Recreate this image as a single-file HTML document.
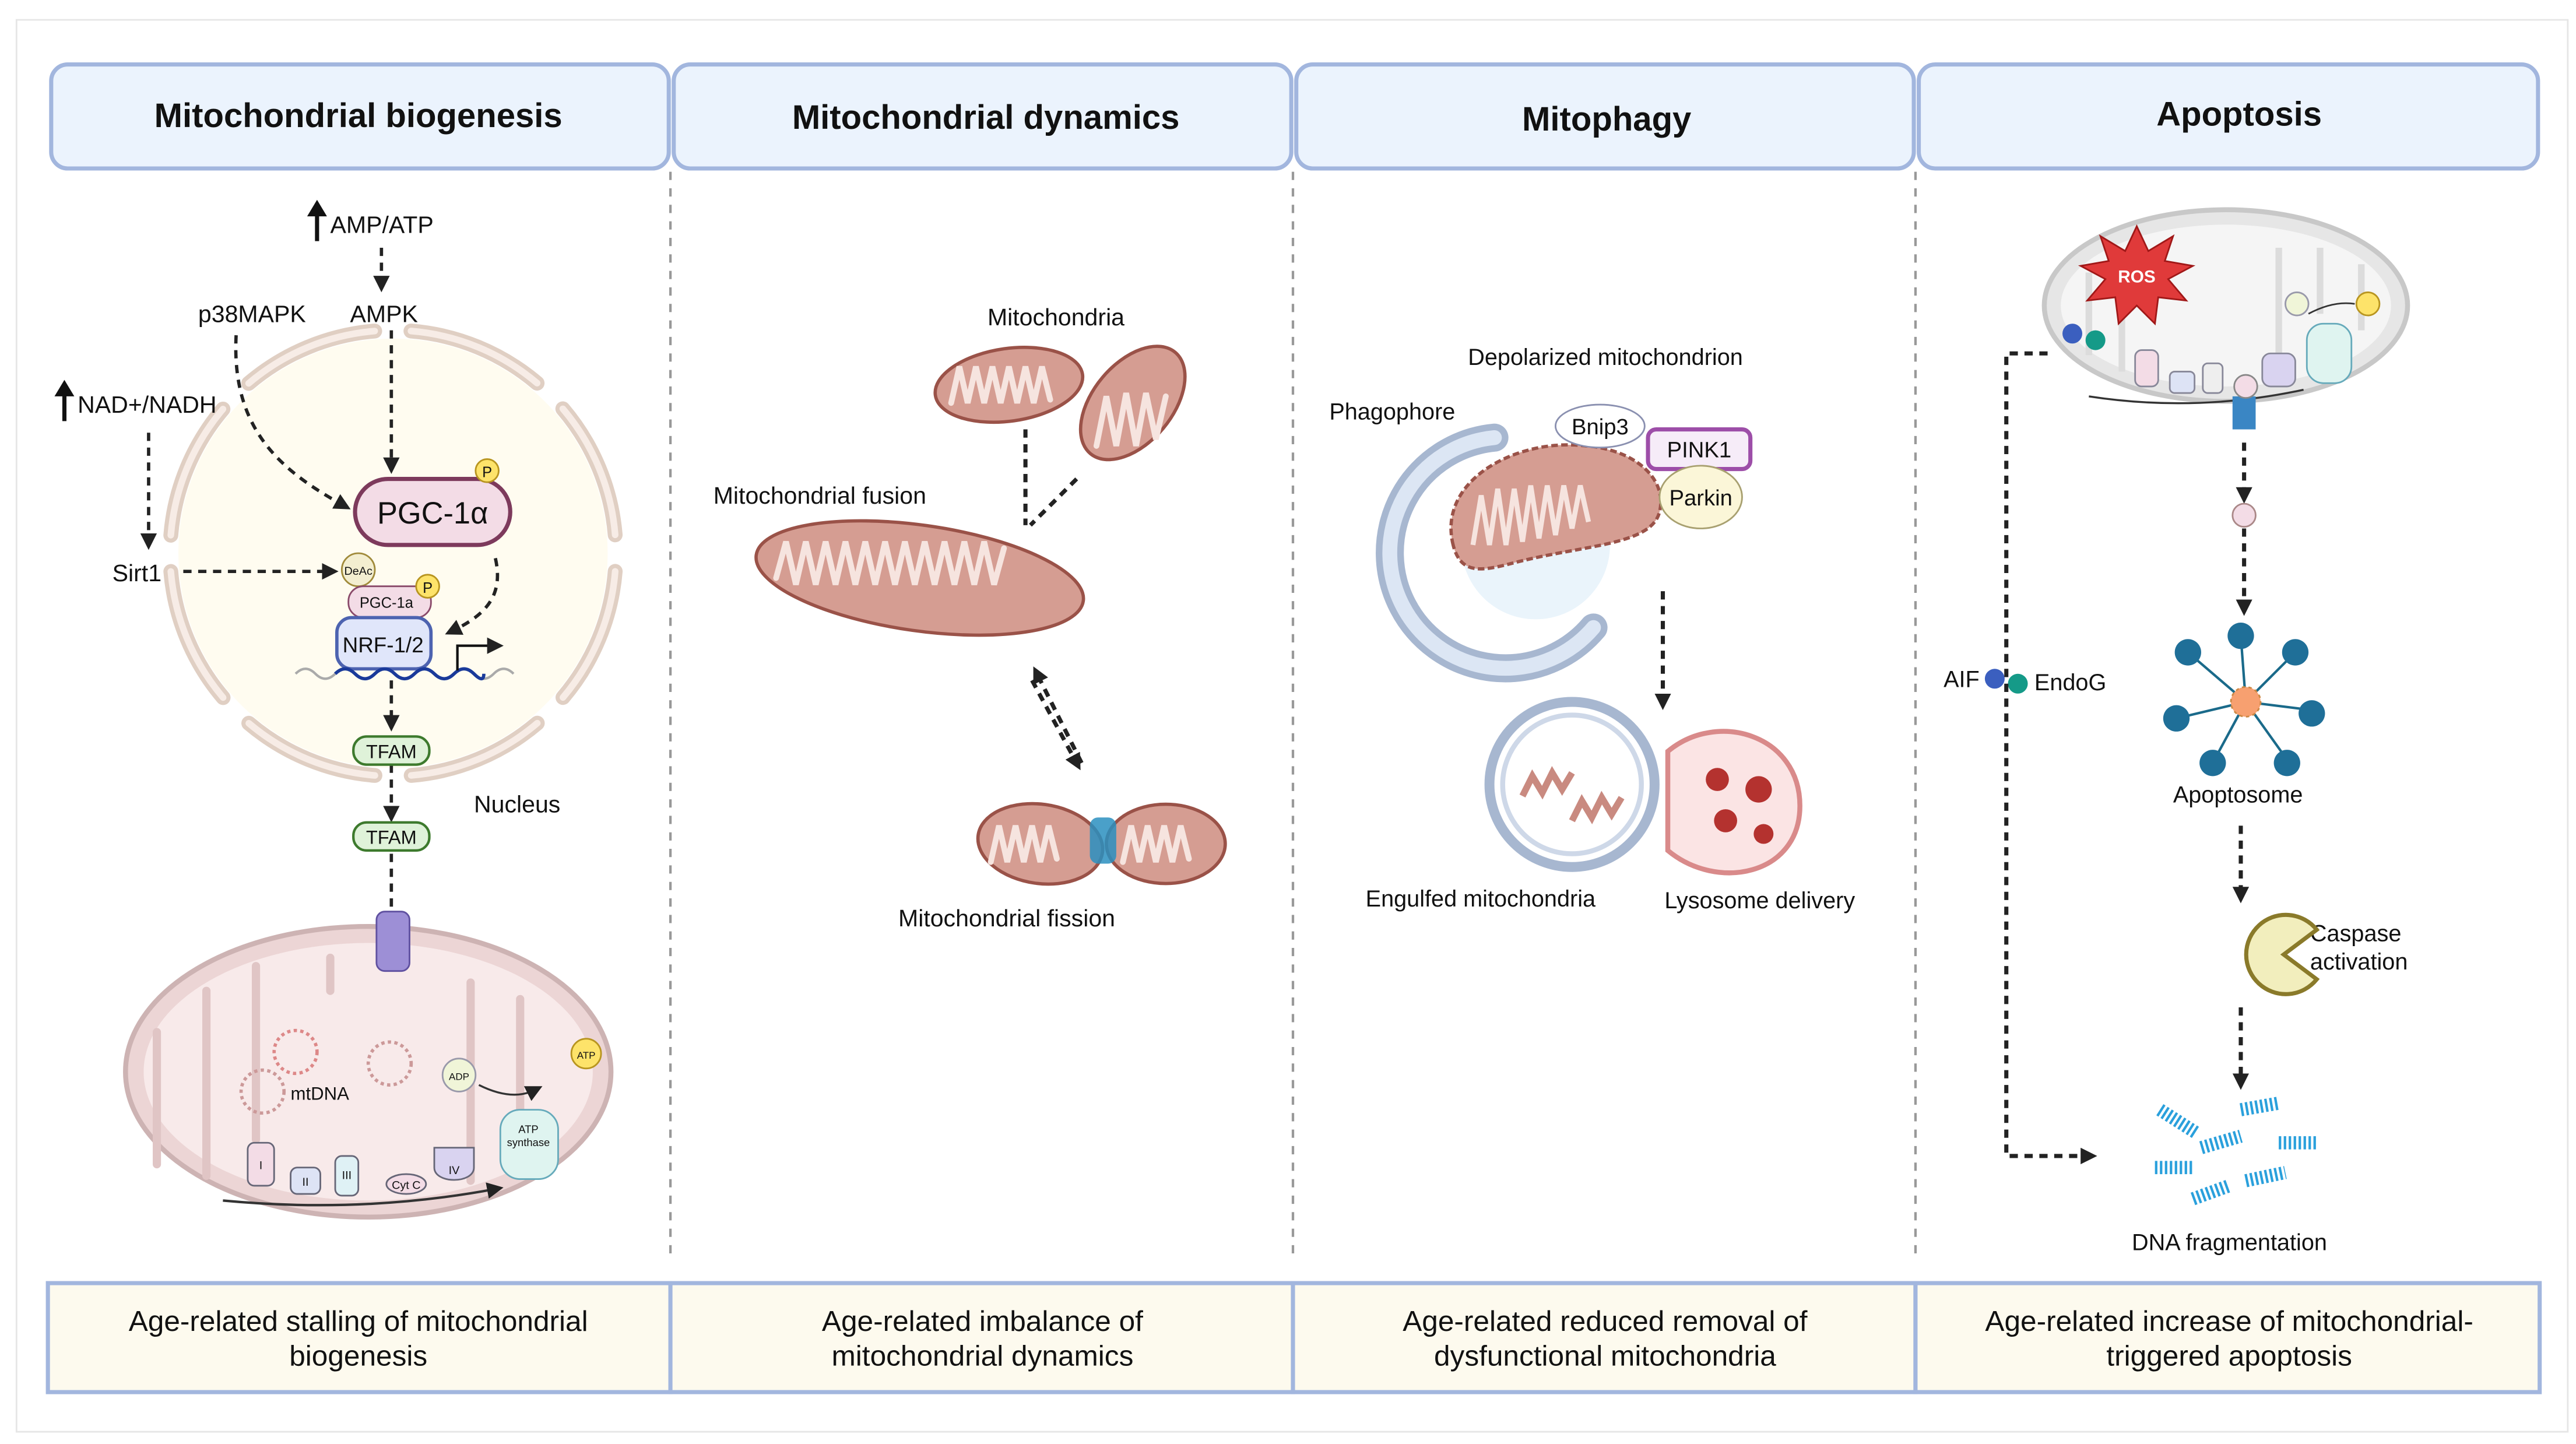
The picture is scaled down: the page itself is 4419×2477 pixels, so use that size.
<!DOCTYPE html>
<html><head><meta charset="utf-8"><style>
html,body{margin:0;padding:0;background:#fff;}
svg{display:block;}
text{font-family:"Liberation Sans",sans-serif;}
</style></head><body>
<svg width="4419" height="2477" viewBox="0 0 1560 874.4" xmlns="http://www.w3.org/2000/svg">
<defs>
<marker id="ah" markerWidth="10" markerHeight="10" refX="5" refY="5" orient="auto" markerUnits="userSpaceOnUse"><path d="M0,0 L10,5 L0,10 z" fill="#222"/></marker>
</defs>
<rect x="0" y="0" width="1560" height="874.4" fill="#fff"/>
<rect x="10" y="12" width="1545" height="855" fill="none" stroke="#e6e6e6" stroke-width="1"/>
<g stroke="#999" stroke-width="1.5" stroke-dasharray="5,5">
<line x1="406" y1="104" x2="406" y2="760"/><line x1="783" y1="104" x2="783" y2="760"/><line x1="1160" y1="104" x2="1160" y2="760"/>
</g>
<g fill="#ebf3fd" stroke="#a2b6de" stroke-width="2.5">
<rect x="31" y="39" width="374" height="63" rx="10"/>
<rect x="408" y="39" width="374" height="63" rx="10"/>
<rect x="785" y="39" width="374" height="63" rx="10"/>
<rect x="1162" y="39" width="375" height="63" rx="10"/>
</g>
<g font-size="20.5" font-weight="bold" text-anchor="middle" fill="#111">
<text x="217" y="77">Mitochondrial biogenesis</text>
<text x="597" y="78">Mitochondrial dynamics</text>
<text x="973" y="79">Mitophagy</text>
<text x="1356" y="76">Apoptosis</text>
</g>
<g fill="#fdfaee" stroke="#a2b6de" stroke-width="2.5">
<rect x="29" y="777" width="377" height="66"/>
<rect x="406" y="777" width="377" height="66"/>
<rect x="783" y="777" width="377" height="66"/>
<rect x="1160" y="777" width="378" height="66"/>
</g>
<g font-size="17.5" text-anchor="middle" fill="#111">
<text x="217" y="806">Age-related stalling of mitochondrial</text><text x="217" y="827">biogenesis</text>
<text x="595" y="806">Age-related imbalance of</text><text x="595" y="827">mitochondrial dynamics</text>
<text x="972" y="806">Age-related reduced removal of</text><text x="972" y="827">dysfunctional mitochondria</text>
<text x="1350" y="806">Age-related increase of mitochondrial-</text><text x="1350" y="827">triggered apoptosis</text>
</g>

<!-- PANEL 1 -->
<circle cx="238" cy="335" r="130" fill="#fffcf0"/>
<circle cx="238" cy="335" r="135" fill="none" stroke="#e0cfc3" stroke-width="9" stroke-linecap="round" stroke-dasharray="84,22" stroke-dashoffset="-11"/>
<circle cx="238" cy="335" r="135" fill="none" stroke="#f7ece6" stroke-width="4" stroke-linecap="round" stroke-dasharray="84,22" stroke-dashoffset="-11"/>
<g font-size="14.5" fill="#111">
<text x="200" y="141">AMP/ATP</text>
<text x="120" y="195">p38MAPK</text>
<text x="212" y="195">AMPK</text>
<text x="47" y="250">NAD+/NADH</text>
<text x="68" y="352">Sirt1</text>
<text x="287" y="492">Nucleus</text>
</g>
<g stroke="#111" stroke-width="2.5"><line x1="192" y1="146" x2="192" y2="128"/><line x1="39" y1="255" x2="39" y2="237"/></g>
<path d="M186,131 L192,121 L198,131z M33,240 L39,230 L45,240z" fill="#111"/>
<g stroke="#222" stroke-width="2" stroke-dasharray="5,4" fill="none" marker-end="url(#ah)">
<line x1="231" y1="150" x2="231" y2="172"/>
<line x1="237" y1="200" x2="237" y2="282"/>
<path d="M143,203 C140,260 170,285 208,306"/>
<line x1="90" y1="262" x2="90" y2="328"/>
<line x1="111" y1="346" x2="200" y2="346"/>
<path d="M300,338 C305,360 295,372 274,382"/>
<line x1="237" y1="412" x2="237" y2="438"/>
<line x1="237" y1="463" x2="237" y2="493"/>
<line x1="237" y1="517" x2="237" y2="604"/>
<line x1="215" y1="635" x2="196" y2="641"/>
</g>
<rect x="215" y="290" width="94" height="40" rx="20" fill="#f3dce6" stroke="#7d3a5c" stroke-width="2.5"/>
<text x="262" y="317" font-size="18.5" text-anchor="middle" fill="#111">PGC-1α</text>
<circle cx="295" cy="285" r="7" fill="#fde36a" stroke="#b89520"/><text x="295" y="289" font-size="9" text-anchor="middle" fill="#111">P</text>
<circle cx="217" cy="345" r="10" fill="#f3eed0" stroke="#a08a3a"/><text x="217" y="348" font-size="7" text-anchor="middle" fill="#111">DeAc</text>
<rect x="211" y="355" width="50" height="19" rx="9" fill="#f3dce6" stroke="#8a4a6a"/><text x="234" y="368" font-size="9" text-anchor="middle" fill="#111">PGC-1a</text>
<circle cx="259" cy="355" r="7" fill="#fde36a" stroke="#b89520"/><text x="259" y="359" font-size="9" text-anchor="middle" fill="#111">P</text>
<rect x="204" y="374" width="57" height="31" rx="9" fill="#e0e6fa" stroke="#4d63b0" stroke-width="2"/><text x="232" y="395" font-size="13" text-anchor="middle" fill="#111">NRF-1/2</text>
<path d="M179,408 q6,-6 12,0 t12,0 t12,0 t12,0 t12,0 t12,0 t12,0 t12,0 t12,0 t12,0 t12,0" fill="none" stroke="#aaa" stroke-width="1.5"/>
<path d="M203,408 q6,-6 12,0 t12,0 t12,0 t12,0 t12,0 t12,0 t12,0 t6,0" fill="none" stroke="#1a3a9a" stroke-width="2"/>
<path d="M277,406 V391 H300" fill="none" stroke="#111" stroke-width="1.5" marker-end="url(#ah)"/>
<g fill="#dff2d9" stroke="#3d7a2d" stroke-width="1.5">
<rect x="214" y="446" width="46" height="17" rx="8"/><rect x="214" y="498" width="46" height="17" rx="8"/><rect x="216" y="611" width="46" height="17" rx="8"/>
</g>
<g font-size="11.5" text-anchor="middle" fill="#111"><text x="237" y="459">TFAM</text><text x="237" y="511">TFAM</text><text x="239" y="623">TFAM</text></g>
<ellipse cx="223" cy="649" rx="147" ry="88" fill="#ecd5d5" stroke="#cdb3b3" stroke-width="3"/>
<ellipse cx="223" cy="649" rx="136" ry="78" fill="#f8eaea"/>
<path d="M95,705 V625 M125,712 V600 M155,690 V585 M200,600 V580 M285,715 V595 M315,705 V605" stroke="#e0c5c5" stroke-width="5" fill="none" stroke-linecap="round"/>
<rect x="228" y="552" width="20" height="36" rx="5" fill="#9d8fd6" stroke="#5f50a0"/>
<circle cx="179" cy="637" r="13" fill="none" stroke="#d88" stroke-width="2" stroke-dasharray="2,2"/>
<circle cx="159" cy="661" r="13" fill="none" stroke="#c99" stroke-width="2" stroke-dasharray="2,2"/>
<circle cx="236" cy="644" r="13" fill="none" stroke="#c99" stroke-width="2" stroke-dasharray="2,2"/>
<text x="176" y="666" font-size="11" fill="#111">mtDNA</text>
<circle cx="278" cy="651" r="10" fill="#f0f5d8" stroke="#99a"/><text x="278" y="654" font-size="6" text-anchor="middle" fill="#111">ADP</text>
<circle cx="355" cy="638" r="9" fill="#fde36a" stroke="#b89520"/><text x="355" y="641" font-size="6" text-anchor="middle" fill="#111">ATP</text>
<path d="M290,657 q20,10 34,3" fill="none" stroke="#333" stroke-width="1.2" marker-end="url(#ah)"/>
<rect x="303" y="672" width="35" height="42" rx="12" fill="#dff4f0" stroke="#6ab"/><text x="320" y="686" font-size="6.5" text-anchor="middle" fill="#111">ATP</text><text x="320" y="694" font-size="6.5" text-anchor="middle" fill="#111">synthase</text>
<g stroke="#667">
<rect x="150" y="692" width="16" height="26" rx="4" fill="#f3dce6"/><rect x="176" y="707" width="18" height="16" rx="4" fill="#dde3f5"/><rect x="203" y="700" width="14" height="24" rx="4" fill="#dff1f5"/>
<ellipse cx="246" cy="717" rx="12" ry="6" fill="#f3dce6"/><path d="M263,695 h24 v12 c0,10 -24,10 -24,0z" fill="#d9d3f0"/>
</g>
<g font-size="7" text-anchor="middle" fill="#111"><text x="158" y="708">I</text><text x="185" y="718">II</text><text x="210" y="714">III</text><text x="246" y="720">Cyt C</text><text x="275" y="711">IV</text></g>
<path d="M135,727 Q220,735 300,720" fill="none" stroke="#333" stroke-width="1.5" marker-end="url(#ah)"/>

<!-- PANEL 2 -->
<g fill="#d59d92" stroke="#9a5248" stroke-width="2">
<ellipse cx="611" cy="233" rx="45" ry="22" transform="rotate(-8 611 233)"/>
<ellipse cx="686" cy="244" rx="40" ry="24" transform="rotate(-50 686 244)"/>
<ellipse cx="557" cy="350" rx="100" ry="32" transform="rotate(8 557 350)"/>
<ellipse cx="630" cy="511" rx="38" ry="24" transform="rotate(8 630 511)"/>
<ellipse cx="706" cy="511" rx="36" ry="24"/>
</g>
<g fill="none" stroke="#f6e4df" stroke-width="3.5" stroke-linecap="round">
<path d="M576,244 l5,-22 l5,22 l5,-22 l5,22 l5,-22 l5,22 l5,-22 l5,22 l5,-22 l5,22 l5,-22 l5,20"/>
<path d="M664,270 l6,-30 l6,30 l6,-32 l6,32 l6,-32 l6,28 l6,-26"/>
<path d="M470,350 l6,-22 l6,26 l6,-26 l6,26 l6,-26 l6,26 l6,-26 l6,26 l6,-26 l6,26 l6,-26 l6,26 l6,-26 l6,26 l6,-26 l6,26 l6,-26 l6,26 l6,-26 l6,26 l6,-26 l6,26 l6,-22"/>
<path d="M600,522 l5,-22 l5,22 l5,-22 l5,22 l5,-22 l5,22 l5,-22 l5,20"/>
<path d="M680,522 l5,-22 l5,22 l5,-22 l5,22 l5,-22 l5,22 l5,-22 l5,20"/>
</g>
<rect x="660" y="495" width="16" height="28" rx="5" fill="#2a8fc0" opacity="0.85"/>
<g font-size="14.5" fill="#111"><text x="598" y="197">Mitochondria</text><text x="432" y="305">Mitochondrial fusion</text><text x="544" y="561">Mitochondrial fission</text></g>
<g stroke="#222" stroke-width="2.5" stroke-dasharray="5,4" fill="none">
<line x1="621" y1="260" x2="621" y2="318"/><line x1="652" y1="290" x2="624" y2="318"/>
<line x1="625" y1="412" x2="652" y2="462" marker-end="url(#ah)"/>
<line x1="655" y1="462" x2="628" y2="408" marker-end="url(#ah)"/>
</g>

<!-- PANEL 3 -->
<text x="889" y="221" font-size="14" fill="#111">Depolarized mitochondrion</text>
<text x="805" y="254" font-size="14" fill="#111">Phagophore</text>
<circle cx="930" cy="330" r="45" fill="#eaf4fb"/>
<path d="M905,265 A70,70 0 1,0 965,380" fill="none" stroke="#a7b7d0" stroke-width="17" stroke-linecap="round"/>
<path d="M905,265 A70,70 0 1,0 965,380" fill="none" stroke="#dce6f4" stroke-width="9" stroke-linecap="round"/>
<path d="M880,330 C870,290 920,265 960,270 C990,272 1010,290 1005,310 C1000,330 960,330 920,340 C900,345 885,350 880,330z" fill="#d59d92" stroke="#9a5248" stroke-width="2" stroke-dasharray="4,2"/>
<path d="M892,330 l5,-30 l5,30 l5,-34 l5,34 l5,-34 l5,32 l5,-34 l5,32 l5,-32 l5,30 l5,-30 l5,26 l5,-26 l5,22" fill="none" stroke="#f6e4df" stroke-width="3"/>
<ellipse cx="969" cy="258" rx="27" ry="13" fill="#fff" stroke="#8a90b0"/><text x="969" y="263" font-size="13.5" text-anchor="middle" fill="#111">Bnip3</text>
<rect x="998" y="260" width="62" height="24" rx="5" fill="#f6ecf8" stroke="#9d4ea8" stroke-width="2.5"/><text x="1029" y="277" font-size="13.5" text-anchor="middle" fill="#111">PINK1</text>
<ellipse cx="1030" cy="301" rx="25" ry="19" fill="#fbf6d8" stroke="#a8a070"/><text x="1030" y="306" font-size="13.5" text-anchor="middle" fill="#111">Parkin</text>
<line x1="1007" y1="358" x2="1007" y2="425" stroke="#222" stroke-width="2.5" stroke-dasharray="5,4" marker-end="url(#ah)"/>
<path d="M1010,455 C1040,430 1090,445 1090,488 C1090,530 1040,540 1010,515 z" fill="#fbe4e4" stroke="#d98a8a" stroke-width="3"/>
<circle cx="952" cy="475" r="50" fill="#fff" stroke="#a7b7d0" stroke-width="6"/>
<circle cx="952" cy="475" r="42" fill="#fff" stroke="#ced8e8" stroke-width="3"/>
<g fill="#b4322f"><circle cx="1040" cy="472" r="7"/><circle cx="1065" cy="478" r="8"/><circle cx="1045" cy="497" r="7"/><circle cx="1068" cy="505" r="6"/></g>
<path d="M922,482 l6,-12 l6,10 l6,-12 l6,10 l6,-10" fill="none" stroke="#c98a80" stroke-width="4"/>
<path d="M952,497 l6,-12 l6,10 l6,-12 l6,10 l6,-10" fill="none" stroke="#c98a80" stroke-width="4"/>
<g font-size="14" fill="#111"><text x="827" y="549">Engulfed mitochondria</text><text x="1008" y="550">Lysosome delivery</text></g>

<!-- PANEL 4 -->
<ellipse cx="1348" cy="185" rx="110" ry="58" fill="#e6e6e6" stroke="#c8c8c8" stroke-width="3"/>
<ellipse cx="1348" cy="185" rx="100" ry="49" fill="#f5f5f5"/>
<path d="M1265,215 V165 M1285,225 V190 M1380,215 V150 M1405,190 V150 M1430,200 V160" stroke="#dcdcdc" stroke-width="4" fill="none"/>
<polygon points="1294,137 1301,152 1316,143 1311,158 1328,161 1313,169 1324,182 1307,180 1305,196 1294,185 1283,196 1281,180 1264,182 1275,169 1260,161 1277,158 1272,143 1287,152" fill="#e03a3a" stroke="#a01818"/>
<text x="1294" y="171" font-size="10.5" font-weight="bold" text-anchor="middle" fill="#fff">ROS</text>
<circle cx="1391" cy="184" r="7" fill="#f0f5d8" stroke="#99a"/><circle cx="1434" cy="184" r="7" fill="#fde36a" stroke="#b89520"/>
<path d="M1398,190 q15,-8 28,-6" fill="none" stroke="#333" stroke-width="1"/>
<rect x="1397" y="196" width="27" height="36" rx="10" fill="#dff4f0" stroke="#6ab"/>
<g stroke="#889"><rect x="1293" y="212" width="14" height="22" rx="4" fill="#f3dce6"/><rect x="1314" y="225" width="15" height="13" rx="3" fill="#dde3f5"/><rect x="1334" y="220" width="12" height="18" rx="3" fill="#eee"/><rect x="1370" y="214" width="20" height="20" rx="5" fill="#d9d3f0"/></g>
<path d="M1265,240 Q1330,250 1395,236" fill="none" stroke="#333" stroke-width="1.2"/>
<rect x="1352" y="240" width="14" height="20" fill="#3a86c4"/>
<circle cx="1360" cy="234" r="7" fill="#f3dce6" stroke="#888"/>
<circle cx="1255" cy="202" r="6" fill="#3b5fbf"/><circle cx="1269" cy="206" r="6" fill="#159a88"/>
<circle cx="1208" cy="411" r="6" fill="#3b5fbf"/><circle cx="1222" cy="414" r="6" fill="#159a88"/>
<g font-size="14" fill="#111"><text x="1177" y="416">AIF</text><text x="1232" y="418">EndoG</text><text x="1316" y="486">Apoptosome</text><text x="1399" y="570">Caspase</text><text x="1399" y="587">activation</text><text x="1291" y="757">DNA fragmentation</text></g>
<g stroke="#222" stroke-width="2.5" stroke-dasharray="5,4" fill="none">
<path d="M1240,214 H1215 V700 H1265" marker-end="url(#ah)"/>
<line x1="1359" y1="268" x2="1359" y2="300" marker-end="url(#ah)"/>
<line x1="1359" y1="320" x2="1359" y2="368" marker-end="url(#ah)"/>
<line x1="1357" y1="500" x2="1357" y2="542" marker-end="url(#ah)"/>
<line x1="1357" y1="610" x2="1357" y2="655" marker-end="url(#ah)"/>
</g>
<circle cx="1359" cy="312" r="7" fill="#f3dce6" stroke="#a88"/>
<g stroke="#1a6a8a" stroke-width="1.5" fill="none">
<line x1="1360" y1="425" x2="1357" y2="385"/><line x1="1360" y1="425" x2="1390" y2="395"/><line x1="1360" y1="425" x2="1400" y2="430"/><line x1="1360" y1="425" x2="1385" y2="460"/><line x1="1360" y1="425" x2="1340" y2="462"/><line x1="1360" y1="425" x2="1318" y2="435"/><line x1="1360" y1="425" x2="1325" y2="395"/>
</g>
<g fill="#1f6f98"><circle cx="1357" cy="385" r="8"/><circle cx="1390" cy="395" r="8"/><circle cx="1400" cy="432" r="8"/><circle cx="1385" cy="462" r="8"/><circle cx="1340" cy="462" r="8"/><circle cx="1318" cy="435" r="8"/><circle cx="1325" cy="395" r="8"/></g>
<circle cx="1360" cy="425" r="9" fill="#f7a070" stroke="#c84" stroke-dasharray="2,2"/>
<path d="M1403,563 A24,24 0 1,0 1403,593 L1383,578z" fill="#f2eebd" stroke="#8a7a2a" stroke-width="2.5"/>
<g stroke="#2aa0dc" stroke-width="8" stroke-dasharray="1.5,1.5">
<line x1="1308" y1="672" x2="1330" y2="686"/><line x1="1357" y1="672" x2="1380" y2="668"/><line x1="1333" y1="695" x2="1357" y2="688"/><line x1="1380" y1="692" x2="1403" y2="692"/><line x1="1305" y1="707" x2="1328" y2="707"/><line x1="1360" y1="715" x2="1384" y2="710"/><line x1="1328" y1="726" x2="1350" y2="718"/>
</g>
</svg>
</body></html>
